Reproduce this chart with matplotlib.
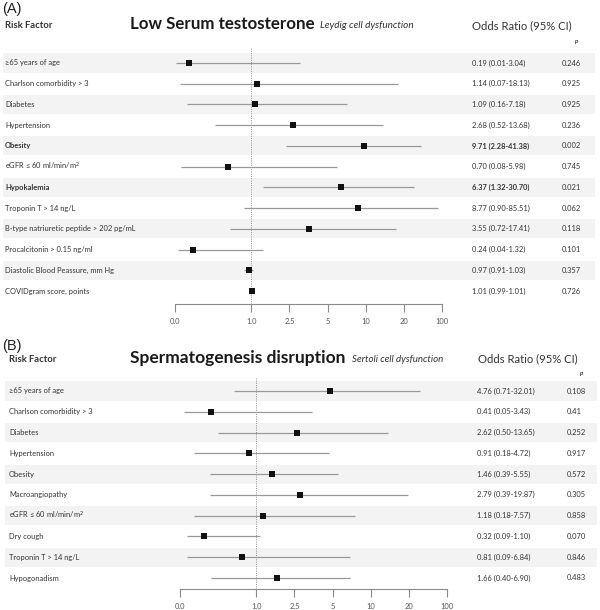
import numpy as np
import matplotlib
matplotlib.use("Agg")
import matplotlib.pyplot as plt
from matplotlib.transforms import blended_transform_factory
from matplotlib.patches import Rectangle

# ---------------- data ----------------
labels_a = ["\u226565 years of age", "Charlson comorbidity > 3", "Diabetes", "Hypertension",
            "Obesity", "eGFR \u2264 60 ml/min/m$^2$", "Hypokalemia", "Troponin T > 14 ng/L",
            "B-type natriuretic peptide > 202 pg/mL", "Procalcitonin > 0.15 ng/ml",
            "Diastolic Blood Peassure, mm Hg", "COVIDgram score, points"]
or_a = [0.19, 1.14, 1.09, 2.68, 9.71, 0.70, 6.37, 8.77, 3.55, 0.24, 0.97, 1.01]
lo_a = [0.01, 0.07, 0.16, 0.52, 2.28, 0.08, 1.32, 0.90, 0.72, 0.04, 0.91, 0.99]
hi_a = [3.04, 18.13, 7.18, 13.68, 41.38, 5.98, 30.70, 85.51, 17.41, 1.32, 1.03, 1.01]
p_a = ["0.246", "0.925", "0.925", "0.236", "0.002", "0.745", "0.021", "0.062", "0.118",
       "0.101", "0.357", "0.726"]

labels_b = ["\u226565 years of age", "Charlson comorbidity > 3", "Diabetes", "Hypertension",
            "Obesity", "Macroangiopathy", "eGFR \u2264 60 ml/min/m$^2$", "Dry cough",
            "Troponin T > 14 ng/L", "Hypogonadism"]
or_b = [4.76, 0.41, 2.62, 0.91, 1.46, 2.79, 1.18, 0.32, 0.81, 1.66]
lo_b = [0.71, 0.05, 0.50, 0.18, 0.39, 0.39, 0.18, 0.09, 0.09, 0.40]
hi_b = [32.01, 3.43, 13.65, 4.72, 5.55, 19.87, 7.57, 1.10, 6.84, 6.90]
p_b = ["0.108", "0.41", "0.252", "0.917", "0.572", "0.305", "0.858", "0.070", "0.846", "0.483"]

tick_vals = [0, 1, 2.5, 5, 10, 20, 100]
tick_labels = ["0.0", "1.0", "2.5", "5", "10", "20", "100"]

# ---------------- custom axis scale ----------------
knots_v = np.array([1, 2.5, 5, 10, 20, 100], float)
knots_p = np.arange(2, 2 + len(knots_v), dtype=float)


def fwd(v):
    v = np.asarray(v, float)
    lg = np.log(np.clip(v, 1e-9, None))
    return np.where(v <= 1, 2 * v, np.interp(lg, np.log(knots_v), knots_p))


def inv(p):
    p = np.asarray(p, float)
    return np.where(p <= 2, p / 2, np.exp(np.interp(p, knots_p, np.log(knots_v))))


W, H = 600, 610
plt.rcParams['font.family'] = ['Lato', 'DejaVu Sans']
fig = plt.figure(figsize=(W / 100, H / 100), dpi=100)

TXT = "#333333"
BAND = "#f3f3f3"
FS = 5.4


def fx(px):
    return px / W


def fy(py):
    return 1 - py / H


def panel(labels, ors, los, his, ps, ax_left, ax_right, ax_top, ax_bot,
          row0, rowN, lab_x, or_x, p_x, band_x0, band_x1):
    n = len(labels)
    step = (rowN - row0) / (n - 1)
    ax = fig.add_axes([fx(ax_left), fy(ax_bot), (ax_right - ax_left) / W, (ax_bot - ax_top) / H])
    ax.set_xscale('function', functions=(fwd, inv))
    ax.set_xlim(0, 100)
    ax.set_ylim((n - 1) + (ax_bot - rowN) / step, -(row0 - ax_top) / step)
    ax.patch.set_alpha(0)
    tr = blended_transform_factory(fig.transFigure, ax.transData)
    for i in range(n):
        if i % 2 == 0:
            ax.add_patch(Rectangle((fx(band_x0), i - 0.46), fx(band_x1) - fx(band_x0), 0.92,
                                   transform=tr, facecolor=BAND, edgecolor='none',
                                   clip_on=False, zorder=0))
    ax.axvline(1.0, color="#8c8c8c", ls=(0, (1, 1.3)), lw=0.7, zorder=1)
    y = np.arange(n)
    ax.hlines(y, los, his, color="#9a9a9a", lw=0.9, zorder=2)
    ax.plot(ors, y, 's', color="#111111", ms=4.0, mew=0, zorder=3)
    for i in range(n):
        bold = float(ps[i]) < 0.05
        w = 'bold' if bold else 'normal'
        ax.text(fx(lab_x), i, labels[i], transform=tr, fontsize=FS, color=TXT,
                va='center', ha='left', fontweight=w)
        ax.text(fx(or_x), i, f"{ors[i]:.2f} ({los[i]:.2f}-{his[i]:.2f})", transform=tr,
                fontsize=FS, color=TXT, va='center', ha='left', fontweight=w)
        ax.text(fx(p_x), i, ps[i], transform=tr, fontsize=FS, color=TXT,
                va='center', ha='left')
    for s in ['left', 'right', 'top']:
        ax.spines[s].set_visible(False)
    ax.spines['bottom'].set_color("#8a8a8a")
    ax.spines['bottom'].set_linewidth(0.8)
    ax.set_yticks([])
    ax.set_xticks(tick_vals)
    ax.set_xticklabels(tick_labels)
    ax.xaxis.set_minor_locator(matplotlib.ticker.NullLocator())
    ax.tick_params(axis='x', direction='out', length=6, width=0.8, color="#8a8a8a",
                   labelsize=5.4, labelcolor="#555555", pad=4)
    return ax


# ---------------- panel A ----------------
fig.text(fx(2), fy(9), "(A)", fontsize=10.5, color="#222222", va='center', ha='left',
         family=['Liberation Sans', 'DejaVu Sans'])
fig.text(fx(5), fy(26), "Risk Factor", fontsize=6.8, fontweight='bold', color=TXT,
         va='center', ha='left')
fig.text(fx(130), fy(24), "Low Serum testosterone", fontsize=12.2, fontweight='bold',
         color="#1a1a1a", va='center', ha='left')
fig.text(fx(320), fy(26), "Leydig cell dysfunction", fontsize=7.2, style='italic',
         color="#333333", va='center', ha='left')
fig.text(fx(472), fy(26), "Odds Ratio (95% CI)", fontsize=8.1, color="#333333",
         va='center', ha='left')
fig.text(fx(575), fy(42), "p", fontsize=4.5, style='italic', fontweight='bold',
         color=TXT, va='center', ha='left')
panel(labels_a, or_a, lo_a, hi_a, p_a, 175, 442, 48, 304, 63, 291,
      5, 472, 562, 3, 595)

# ---------------- panel B ----------------
fig.text(fx(2), fy(346), "(B)", fontsize=10.5, color="#222222", va='center', ha='left',
         family=['Liberation Sans', 'DejaVu Sans'])
fig.text(fx(9), fy(359), "Risk Factor", fontsize=6.8, fontweight='bold', color=TXT,
         va='center', ha='left')
fig.text(fx(130), fy(358), "Spermatogenesis disruption", fontsize=12.5, fontweight='bold',
         color="#1a1a1a", va='center', ha='left')
fig.text(fx(352), fy(360), "Sertoli cell dysfunction", fontsize=7.0, style='italic',
         color="#333333", va='center', ha='left')
fig.text(fx(478), fy(359), "Odds Ratio (95% CI)", fontsize=8.1, color="#333333",
         va='center', ha='left')
fig.text(fx(580), fy(373), "p", fontsize=4.5, style='italic', fontweight='bold',
         color=TXT, va='center', ha='left')
panel(labels_b, or_b, lo_b, hi_b, p_b, 180, 447, 378, 589, 391, 578,
      9, 477, 567, 5, 597)

fig.savefig("out.png", dpi=100)
